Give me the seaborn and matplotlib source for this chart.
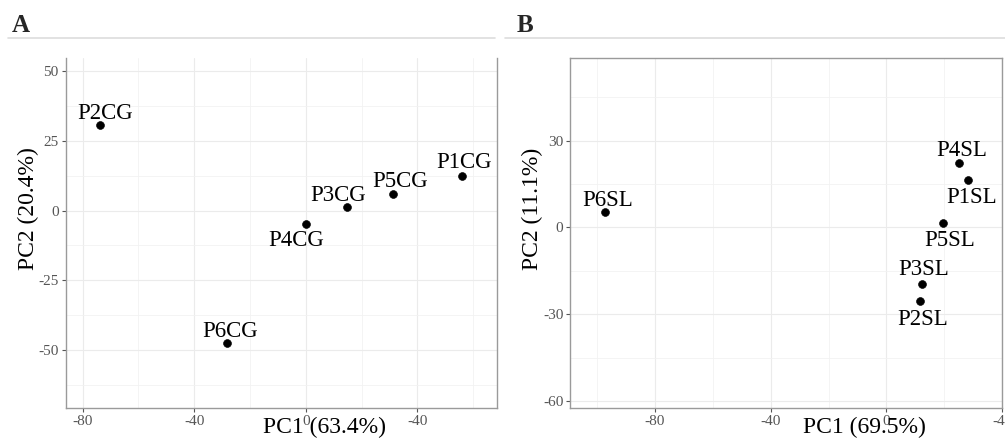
import matplotlib
matplotlib.use("Agg")
import matplotlib.pyplot as plt
from matplotlib.lines import Line2D
from matplotlib.ticker import MultipleLocator
import seaborn as sns
import pandas as pd

# panel A: CG samples
cg_names = ["P1CG", "P2CG", "P3CG", "P4CG", "P5CG", "P6CG"]
cg_pc1 = [56.2, -73.8, 14.7, 0.2, 31.4, -28.4]
cg_pc2 = [12.5, 30.6, 1.4, -4.8, 6.0, -47.4]

# panel B: SL samples
sl_names = ["P1SL", "P2SL", "P3SL", "P4SL", "P5SL", "P6SL"]
sl_pc1 = [28.2, 11.7, 12.1, 25.0, 19.5, -97.2]
sl_pc2 = [16.4, -25.5, -19.6, 22.2, 1.5, 5.3]

xtick_pos = [-80, -40, 0, 40]
xtick_labels = ["-80", "-40", "0", "-40"]

# label offsets in pixels (dx, dy)
cg_offsets = {"P1CG": (2, 8), "P2CG": (5, 6), "P3CG": (-9, 6), "P4CG": (-10, -22),
              "P5CG": (7, 7), "P6CG": (4, 6)}
sl_offsets = {"P1SL": (3, -23), "P2SL": (2, -24), "P3SL": (2, 9), "P4SL": (3, 7),
              "P5SL": (7, -23), "P6SL": (3, 6)}

sns.set_theme(style="whitegrid")
plt.rcParams["font.family"] = ["Liberation Serif", "DejaVu Serif"]
plt.rcParams["axes.unicode_minus"] = False

W, H = 1005, 440
fig = plt.figure(figsize=(W / 100, H / 100), dpi=100)


def panel(rect, names, pc1, pc2, offsets, xlabel, ylabel, xlim, ylim, ystep, xl_x, top=True):
    ax = fig.add_axes([rect[0] / W, 1 - rect[3] / H, (rect[2] - rect[0]) / W, (rect[3] - rect[1]) / H])
    df = pd.DataFrame({"PC1": pc1, "PC2": pc2, "name": names})
    sns.scatterplot(data=df, x="PC1", y="PC2", ax=ax, color="black", s=32, edgecolor=None, zorder=3)
    for n, x, y in zip(names, pc1, pc2):
        dx, dy = offsets[n]
        ax.annotate(n, (x, y), xytext=(dx, dy), textcoords="offset pixels",
                    ha="center", va="baseline", fontsize=16.5, color="black")
    ax.set_xlim(*xlim)
    ax.set_ylim(*ylim)
    ax.set_xticks(xtick_pos)
    ax.set_xticklabels(xtick_labels)
    ax.xaxis.set_minor_locator(MultipleLocator(20))
    ax.yaxis.set_major_locator(MultipleLocator(ystep))
    ax.yaxis.set_minor_locator(MultipleLocator(ystep / 2))
    ax.set_facecolor("white")
    ax.grid(which="major", color="#ebebeb", lw=0.8)
    ax.grid(which="minor", color="#f2f2f2", lw=0.6)
    ax.set_axisbelow(True)
    for s in ax.spines.values():
        s.set_color("#9a9a9a")
        s.set_linewidth(1.0)
    ax.spines["top"].set_visible(top)
    ax.tick_params(which="major", length=3, width=0.8, color="#555555",
                   labelsize=11, labelcolor="#555555", pad=2, bottom=True, left=True)
    ax.tick_params(which="minor", length=0)
    ax.set_xlabel(xlabel, fontsize=17, color="black")
    ax.set_ylabel(ylabel, fontsize=17, color="black")
    ax.xaxis.set_label_coords(xl_x, -0.026)
    ax.yaxis.set_label_coords(-0.062, 0.57)
    return ax


panel((65.7, 58, 497, 408), cg_names, cg_pc1, cg_pc2, cg_offsets,
      "PC1 (63.4%)", "PC2 (20.4%)", (-86.1, 68.6), (-70.7, 54.6), 25, 0.60, top=False)
panel((570.3, 58, 1002.3, 408), sl_names, sl_pc1, sl_pc2, sl_offsets,
      "PC1 (69.5%)", "PC2 (11.1%)", (-109.2, 40.0), (-62.4, 58.5), 30, 0.68)

# panel headers and separators
fig.text(12 / W, 1 - 32 / H, "A", fontsize=18, fontweight="bold", ha="left", va="baseline")
fig.text(517 / W, 1 - 32 / H, "B", fontsize=18, fontweight="bold", ha="left", va="baseline")
fig.add_artist(Line2D([8 / W, 495 / W], [1 - 38 / H] * 2, color="#dddddd", lw=1.2))
fig.add_artist(Line2D([505 / W, 1.0], [1 - 38 / H] * 2, color="#dddddd", lw=1.2))

fig.savefig("out.png", dpi=100)
